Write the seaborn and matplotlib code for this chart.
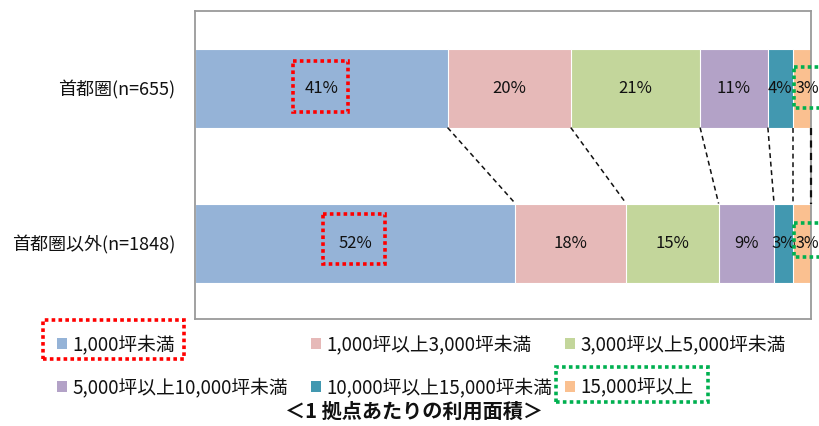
import numpy as np
import pandas as pd
import matplotlib
matplotlib.use("Agg")
import matplotlib.pyplot as plt
from matplotlib.patches import Rectangle, Patch
from matplotlib.transforms import IdentityTransform
import seaborn as sns

# ---- data -------------------------------------------------------------
regions = ["首都圏(n=655)", "首都圏以外(n=1848)"]
size_classes = [
    "1,000坪未満",
    "1,000坪以上3,000坪未満",
    "3,000坪以上5,000坪未満",
    "5,000坪以上10,000坪未満",
    "10,000坪以上15,000坪未満",
    "15,000坪以上",
]
share_capital = [41, 20, 21, 11, 4, 3]   # 首都圏, %
share_other = [52, 18, 15, 9, 3, 3]      # 首都圏以外, %
palette = ["#95B3D7", "#E6B9B8", "#C3D69B", "#B3A2C7", "#4298B0", "#FAC090"]
title = "＜1 拠点あたりの利用面積＞"

# ---- style ------------------------------------------------------------
sns.set_theme(style="white")
plt.rcParams["font.family"] = ["Noto Sans CJK JP", "DejaVu Sans"]

W, H = 820, 426
fig = plt.figure(figsize=(W / 100, H / 100), dpi=100)
ax = fig.add_axes([195 / W, 1 - 319 / H, (811 - 195) / W, (319 - 11) / H])

shares = np.array([share_capital, share_other], dtype=float)
cum = shares.cumsum(axis=1)
bar_h = 0.51

# stacked bars: draw running totals from the widest down so every segment shows
for k in range(len(size_classes) - 1, -1, -1):
    df = pd.DataFrame({"region": regions, "total": cum[:, k]})
    sns.barplot(data=df, x="total", y="region", orient="h", color=palette[k],
                width=bar_h, saturation=1, edgecolor="white", linewidth=0.8,
                errorbar=None, ax=ax)

ax.set_xlim(0, 100)
ax.set_ylim(1.49, -0.497)
ax.set_xticks([])
ax.set_xlabel("")
ax.set_ylabel("")
ax.tick_params(axis="y", length=0, pad=14, labelsize=13, labelcolor="#111111")
for sp in ax.spines.values():
    sp.set_visible(True)
    sp.set_color("#9A9A9A")
    sp.set_linewidth(1.3)

# percentage labels inside each segment; the narrow last segment's label
# starts just inside the segment and runs up to the frame
last = len(size_classes) - 1
for i in range(len(regions)):
    for k in range(len(size_classes)):
        txt = f"{shares[i, k]:.0f}%"
        if k == last:
            ax.text(cum[i, k - 1] + 0.45, i, txt, ha="left", va="center",
                    fontsize=11.5, color="#111111", zorder=5, clip_on=False)
        else:
            xc = cum[i, k] - shares[i, k] / 2
            ax.text(xc, i, txt, ha="center", va="center",
                    fontsize=12, color="#111111", zorder=5)

# dashed connectors between matching segment boundaries
for k in range(len(size_classes)):
    ax.plot([cum[0, k], cum[1, k]], [bar_h / 2, 1 - bar_h / 2],
            color="#111111", ls=(0, (3.2, 2.4)), lw=1.1 if k < last else 1.6,
            clip_on=False, zorder=6)

# dotted highlight frames around selected segment labels
dot_style = dict(fill=False, linestyle=(0, (1, 0.9)), linewidth=2.6,
                 clip_on=False, zorder=7)
red, green = "#FF0000", "#00B050"
label_frames = [
    # row, segment, dx_left, dx_right, dy_top, dy_bottom, colour
    (0, 0, -4.6, 4.35, -0.174, 0.155, red),
    (1, 0, -5.3, 4.85, -0.185, 0.132, red),
]
for row, seg, dx0, dx1, dy0, dy1, col in label_frames:
    xc = cum[row, seg] - shares[row, seg] / 2
    ax.add_patch(Rectangle((xc + dx0, row + dy0), dx1 - dx0, dy1 - dy0,
                           edgecolor=col, **dot_style))
for row, dy0, dy1 in [(0, -0.137, 0.127), (1, -0.131, 0.092)]:
    x0 = cum[row, last - 1] + 0.3
    ax.add_patch(Rectangle((x0, row + dy0), 103 - x0, dy1 - dy0,
                           edgecolor=green, **dot_style))

# legend: three columns, two rows
handles = [Patch(facecolor=c, edgecolor="none") for c in palette]
col_x = [57, 311, 565]
legends = []
for j in range(3):
    leg = fig.legend([handles[j], handles[j + 3]],
                     [size_classes[j], size_classes[j + 3]],
                     loc="upper left", bbox_to_anchor=(col_x[j] / W, 1 - 334 / H),
                     frameon=False, fontsize=13.5, handlelength=0.54,
                     handleheight=0.54, handletextpad=0.28, labelspacing=1.2,
                     borderpad=0, borderaxespad=0)
    for t in leg.get_texts():
        t.set_color("#111111")
    legends.append(leg)

fig.text(414 / W, 1 - 411 / H, title, ha="center", va="center",
         fontsize=14.5, fontweight="bold", color="#111111")

# dotted frames around two legend entries, sized from the rendered entries
fig.canvas.draw()
renderer = fig.canvas.get_renderer()


def frame_entry(leg, idx, pad_l, pad_r, shift, half_h, col):
    hb = leg.legend_handles[idx].get_window_extent(renderer)
    tb = leg.get_texts()[idx].get_window_extent(renderer)
    yc = (hb.y0 + hb.y1) / 2 + shift
    x0 = hb.x0 - pad_l
    x1 = tb.x1 + pad_r
    fig.add_artist(Rectangle((x0, yc - half_h), x1 - x0, 2 * half_h,
                             transform=IdentityTransform(), edgecolor=col,
                             fill=False, linestyle=(0, (1, 0.9)), linewidth=2.6))


frame_entry(legends[0], 0, 14, 9, 3.5, 19.5, red)
frame_entry(legends[2], 1, 9, 15, 2.5, 17.5, green)

fig.savefig("out.png", dpi=100)
